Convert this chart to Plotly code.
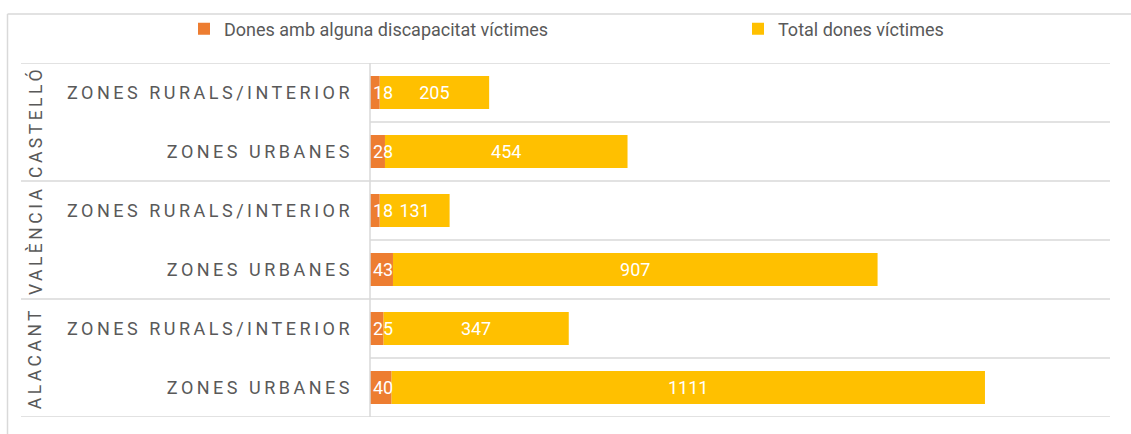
import plotly.graph_objects as go

groups = ["CASTELLÓ", "VALÈNCIA", "ALACANT"]
zones = ["ZONES RURALS/INTERIOR", "ZONES URBANES"]
disab = [18, 28, 18, 43, 25, 40]
total = [205, 454, 131, 907, 347, 1111]
series_names = ["Dones amb alguna discapacitat víctimes", "Total dones víctimes"]

ORANGE = "#ED7D31"
YELLOW = "#FFC000"
GRID = "#D9D9D9"
TXT = "#595959"
FONT = "Roboto, Arial, sans-serif"

ypos = list(range(len(disab)))
ylabels = [z for g in groups for z in zones]

W, H = 1131, 434
ml, mr, mt, mb = 370, 21, 63, 17
pw = W - ml - mr
ph = H - mt - mb


def px_to_paper_x(px):
    return (px - ml) / pw


def px_to_paper_y(py):
    return (H - mb - py) / ph


fig = go.Figure()
# yellow segment stacked on top of the orange one (drawn first so the orange labels sit above it)
fig.add_trace(go.Bar(
    y=ypos, x=total, base=disab, orientation="h", name=series_names[1],
    marker=dict(color=YELLOW, line=dict(width=0)),
    text=[str(v) for v in total], textposition="inside", insidetextanchor="middle",
    constraintext="none", textfont=dict(color="white", size=18, family=FONT),
    legend="legend2",
))
fig.add_trace(go.Bar(
    y=ypos, x=disab, base=[0] * len(disab), orientation="h", name=series_names[0],
    marker=dict(color=ORANGE, line=dict(width=0)),
    text=[str(v) for v in disab], textposition="inside", insidetextanchor="start",
    constraintext="none", textfont=dict(color="white", size=18, family=FONT),
    legend="legend",
))

shapes = []
# outer chart frame (top and left edges visible)
shapes.append(dict(type="line", xref="paper", yref="paper",
                   x0=px_to_paper_x(7.5), x1=px_to_paper_x(1140),
                   y0=px_to_paper_y(14), y1=px_to_paper_y(14),
                   line=dict(color=GRID, width=1.5)))
shapes.append(dict(type="line", xref="paper", yref="paper",
                   x0=px_to_paper_x(7.5), x1=px_to_paper_x(7.5),
                   y0=px_to_paper_y(14), y1=px_to_paper_y(440),
                   line=dict(color=GRID, width=1.5)))
# separators between categories / groups
n = len(disab)
for b in range(n + 1):
    yb = b - 0.5
    x0 = px_to_paper_x(21) if b % 2 == 0 else 0
    shapes.append(dict(type="line", xref="paper", yref="y", x0=x0, x1=1,
                       y0=yb, y1=yb, line=dict(color=GRID, width=1.5), layer="below"))
# vertical axis line
shapes.append(dict(type="line", xref="paper", yref="y", x0=0, x1=0,
                   y0=-0.5, y1=n - 0.5, line=dict(color=GRID, width=1.5)))

annotations = []
for i, g in enumerate(groups):
    annotations.append(dict(
        text=g, xref="paper", yref="y", x=px_to_paper_x(35), y=2 * i + 0.5,
        xanchor="center", yanchor="middle", textangle=-90, showarrow=False,
        font=dict(family=FONT, size=17.5, color=TXT)))

legend_common = dict(orientation="h", xanchor="left", yanchor="middle",
                     y=px_to_paper_y(29), font=dict(family=FONT, size=18, color=TXT),
                     bgcolor="rgba(0,0,0,0)")

fig.update_layout(
    width=W, height=H,
    margin=dict(l=ml, r=mr, t=mt, b=mb, autoexpand=False),
    paper_bgcolor="white", plot_bgcolor="white",
    barmode="overlay", bargap=0.44,
    font=dict(family=FONT, color=TXT, size=18),
    xaxis=dict(range=[0, 1385], showgrid=False, showticklabels=False, zeroline=False,
               showline=False, fixedrange=True, automargin=False),
    yaxis=dict(range=[n - 0.5, -0.5], tickvals=ypos, ticktext=ylabels,
               showgrid=False, zeroline=False, showline=False, ticks="", automargin=False,
               tickfont=dict(family=FONT, size=18, color=TXT), ticklabelstandoff=16),
    legend=dict(x=px_to_paper_x(184), **legend_common),
    legend2=dict(x=px_to_paper_x(738), **legend_common),
    shapes=shapes, annotations=annotations,
    showlegend=True,
)

js = """
document.body.style.margin = '0';
var gd = document.getElementById('{plot_id}');
function sp(){
  gd.querySelectorAll('.ytick text, .annotation-text').forEach(function(t){ t.style.letterSpacing='3.5px'; });
}
sp();
if (gd.on) { gd.on('plotly_afterplot', sp); }
"""

fig.write_html("out.html", post_script=js, config={"displayModeBar": False})
